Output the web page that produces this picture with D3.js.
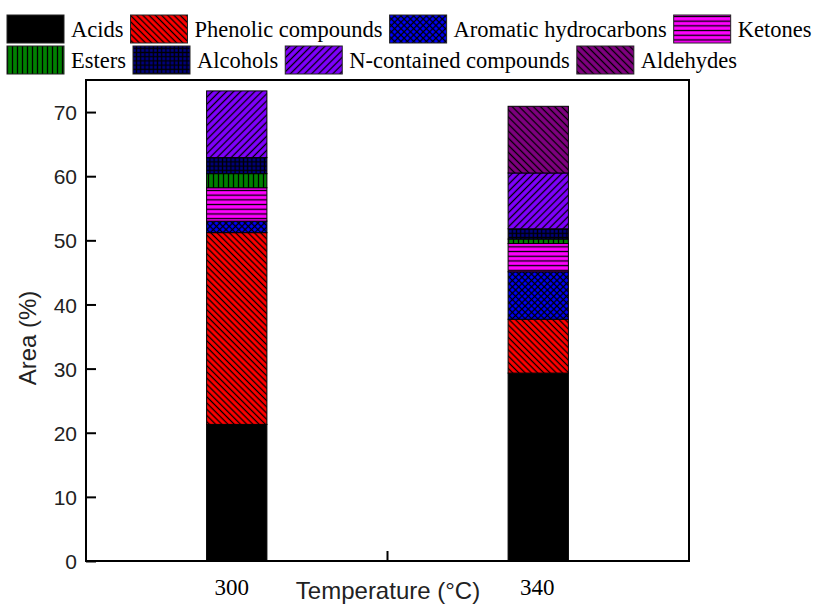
<!DOCTYPE html>
<html>
<head>
<meta charset="utf-8">
<script src="https://cdn.jsdelivr.net/npm/d3@7"></script>
<style>
  body { margin: 0; background: #fff; }
  .axis path, .axis line { stroke: #000; stroke-width: 2px; }
  .ytick text { font-family: "Liberation Sans", Arial, sans-serif; font-size: 21px; fill: #222; }
  .xtick text { font-family: "Liberation Serif", "Times New Roman", serif; font-size: 23px; fill: #000; }
  .legend text { font-family: "Liberation Serif", "Times New Roman", serif; font-size: 22.5px; fill: #000; }
</style>
</head>
<body>
<div id="chart"></div>
<script>
// temperatures
var categories = ["300", "340"];

// series, bottom to top
var seriesNames = ["Acids", "Phenolic compounds", "Aromatic hydrocarbons", "Ketones",
                   "Esters", "Alcohols", "N-contained compounds", "Aldehydes"];

var acids      = [21.3, 29.3];
var phenolic   = [29.9, 8.4];
var aromatic   = [1.8, 7.4];
var ketones    = [5.2, 4.4];
var esters     = [2.2, 0.7];
var alcohols   = [2.5, 1.6];
var nContained = [10.4, 8.7];
var aldehydes  = [0, 10.4];

var yTicks = [0, 10, 20, 30, 40, 50, 60, 70];

var seriesValues = [acids, phenolic, aromatic, ketones, esters, alcohols, nContained, aldehydes];

var margin = {top: 80, right: 124, bottom: 45, left: 86},
    width = 813 - margin.left - margin.right,
    height = 606 - margin.top - margin.bottom;

var svg = d3.select("#chart").append("svg")
    .attr("width", 813)
    .attr("height", 606);

svg.append("rect").attr("width", 813).attr("height", 606).attr("fill", "#fff");

// fill patterns
var defs = svg.append("defs");

function linePattern(id, bg, size, angle, lines) {
  var p = defs.append("pattern")
      .attr("id", id)
      .attr("patternUnits", "userSpaceOnUse")
      .attr("width", size)
      .attr("height", size);
  if (angle) p.attr("patternTransform", "rotate(" + angle + ")");
  p.append("rect").attr("width", size).attr("height", size).attr("fill", bg);
  lines.forEach(function(l) {
    p.append("line")
      .attr("x1", l[0]).attr("y1", l[1]).attr("x2", l[2]).attr("y2", l[3])
      .attr("stroke", "#000")
      .attr("stroke-width", 1.3);
  });
}

linePattern("p-phenolic", "#ff0000", 4.4, -45, [[2.2, 0, 2.2, 4.4]]);
linePattern("p-aromatic", "#0000ff", 4.5, 45, [[2.25, 0, 2.25, 4.5], [0, 2.25, 4.5, 2.25]]);
linePattern("p-ketones", "#ff00ff", 4.7, 0, [[0, 2.35, 4.7, 2.35]]);
linePattern("p-esters", "#008000", 5, 0, [[2.5, 0, 2.5, 5]]);
linePattern("p-alcohols", "#000080", 4.2, 0, [[2.1, 0, 2.1, 4.2], [0, 2.1, 4.2, 2.1]]);
linePattern("p-ncontained", "#8000ff", 5, 45, [[2.5, 0, 2.5, 5]]);
linePattern("p-aldehydes", "#800080", 5, -45, [[2.5, 0, 2.5, 5]]);

var fills = ["#000", "url(#p-phenolic)", "url(#p-aromatic)", "url(#p-ketones)",
             "url(#p-esters)", "url(#p-alcohols)", "url(#p-ncontained)", "url(#p-aldehydes)"];

var table = categories.map(function(c, i) {
  var row = {temp: c};
  seriesNames.forEach(function(s, j) { row[s] = seriesValues[j][i]; });
  return row;
});

var stack = d3.stack().keys(seriesNames)(table);

var x = d3.scaleBand()
    .domain(categories)
    .range([0, width])
    .paddingInner(0.8)
    .paddingOuter(0.4);

var y = d3.scaleLinear()
    .domain([0, 75])
    .range([height, 0]);

var g = svg.append("g")
    .attr("transform", "translate(" + margin.left + "," + margin.top + ")");

// bars
g.selectAll(".layer")
    .data(stack)
  .enter().append("g")
    .attr("class", "layer")
    .attr("fill", function(d, i) { return fills[i]; })
  .selectAll("rect")
    .data(function(d) { return d; })
  .enter().append("rect")
    .filter(function(d) { return d[1] - d[0] > 0; })
    .attr("x", function(d) { return x(d.data.temp); })
    .attr("y", function(d) { return y(d[1]); })
    .attr("width", x.bandwidth())
    .attr("height", function(d) { return y(d[0]) - y(d[1]); })
    .attr("stroke", "#000")
    .attr("stroke-width", 1);

// frame
g.append("rect")
    .attr("width", width)
    .attr("height", height)
    .attr("fill", "none")
    .attr("stroke", "#000")
    .attr("stroke-width", 2);

// y axis, ticks pointing in
var yAxis = g.append("g")
    .attr("class", "axis ytick")
    .call(d3.axisLeft(y).tickValues(yTicks).tickSizeInner(-10).tickSizeOuter(0).tickPadding(9));
yAxis.select(".domain").remove();
yAxis.selectAll("text").attr("dy", "0.36em");

// x axis: labels under bars, one tick between them
var xAxis = g.append("g")
    .attr("class", "axis xtick")
    .attr("transform", "translate(0," + height + ")")
    .call(d3.axisBottom(x).tickSize(0).tickPadding(0));
xAxis.select(".domain").remove();
xAxis.selectAll("text")
    .attr("y", 34)
    .attr("dy", 0)
    .attr("dx", function(d, i) { return i == 0 ? -5 : -1; });

g.append("line")
    .attr("x1", width / 2).attr("x2", width / 2)
    .attr("y1", height).attr("y2", height - 10)
    .attr("stroke", "#000")
    .attr("stroke-width", 2);

// axis titles
svg.append("text")
    .attr("x", 388)
    .attr("y", 599)
    .attr("text-anchor", "middle")
    .style("font-family", "'Liberation Sans', Arial, sans-serif")
    .style("font-size", "24px")
    .style("fill", "#222")
    .text("Temperature (\u00B0C)");

svg.append("text")
    .attr("transform", "translate(36,338) rotate(-90)")
    .attr("text-anchor", "middle")
    .style("font-family", "'Liberation Sans', Arial, sans-serif")
    .style("font-size", "24px")
    .style("fill", "#222")
    .text("Area (%)");

// legend, two rows laid out left to right
var legend = svg.append("g").attr("class", "legend");
var rows = [[0, 1, 2, 3], [4, 5, 6, 7]];
var rowTop = [15, 46];

rows.forEach(function(row, r) {
  var cx = 7;
  row.forEach(function(k) {
    legend.append("rect")
      .attr("x", cx)
      .attr("y", rowTop[r])
      .attr("width", 57)
      .attr("height", 28)
      .attr("fill", fills[k])
      .attr("stroke", "#222")
      .attr("stroke-width", 1);
    var t = legend.append("text")
      .attr("x", cx + 64)
      .attr("y", rowTop[r] + 22)
      .text(seriesNames[k]);
    cx = cx + 64 + t.node().getComputedTextLength() + 7;
  });
});
</script>
</body>
</html>
